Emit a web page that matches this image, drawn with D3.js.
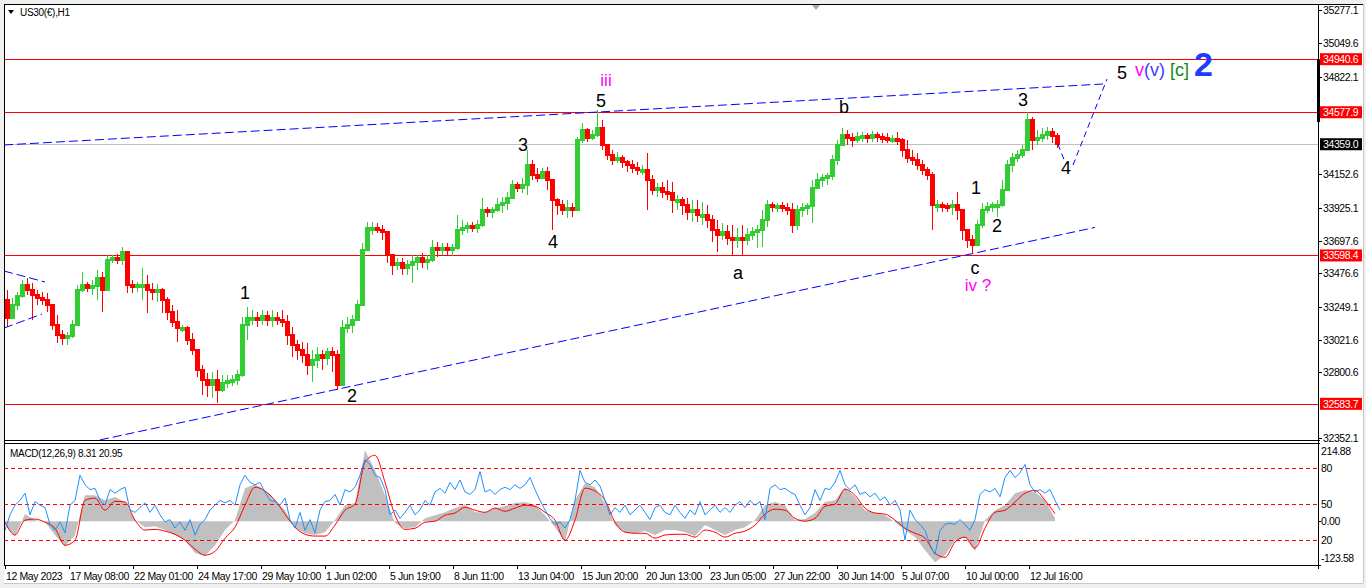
<!DOCTYPE html>
<html>
<head>
<meta charset="utf-8">
<script src="https://cdn.jsdelivr.net/npm/d3@7"></script>
<style>
html, body { margin: 0; padding: 0; background: #f0f0f0; }
svg { display: block; font-family: "Liberation Sans", Arial, sans-serif; }
</style>
</head>
<body>
<svg id="chart" width="1366" height="588"></svg>
<script>
// ---- data (H1 bars grouped 5 hours per bar) ----
const symbolTitle = "US30(€),H1";
const macdTitle = "MACD(12,26,9) 8.31 20.95";

const firstOpen = 33294;
const highs = [
  33362,33308,33349,33431,33444,33410,33362,33349,33342,33260,
  33191,33089,33075,33157,33396,33485,33417,33431,33499,33485,
  33601,33601,33608,33656,33601,33431,33417,33513,33465,33410,
  33403,33376,33314,33260,33225,33123,33116,33068,32952,32849,
  32795,32801,32815,32781,32781,32781,32815,33178,33246,33225,
  33212,33225,33219,33225,33212,33225,33191,33109,33020,33007,
  33000,32952,32972,32952,32966,32972,32952,33157,33178,33191,
  33294,33684,33827,33827,33820,33807,33752,33601,33581,33581,
  33567,33601,33601,33615,33601,33704,33690,33684,33684,33677,
  33875,33841,33827,33827,33841,33991,33930,33930,33991,33998,
  34032,34115,34101,34128,34320,34251,34197,34197,34203,34115,
  33991,33978,33978,33957,34409,34504,34470,34456,34593,34525,
  34354,34320,34306,34285,34251,34251,34238,34217,34299,34149,
  34094,34101,34115,34101,34012,33998,33991,33978,33978,33964,
  33944,33875,33841,33820,33807,33807,33786,33807,33786,33793,
  33807,33909,33978,33964,33957,33964,33957,33957,33944,33957,
  33957,34115,34162,34156,34162,34285,34388,34470,34456,34436,
  34443,34443,34436,34450,34443,34436,34436,34422,34443,34402,
  34388,34320,34299,34251,34203,34169,33978,33964,33957,33978,
  34032,33875,33772,33738,33841,33957,33964,33964,33978,34115,
  34251,34299,34320,34354,34580,34545,34456,34470,34477,34470,
  34436
];
const lows = [
  33109,33191,33225,33308,33328,33157,33260,33260,33212,33089,
  33000,32986,32986,33034,33123,33349,33349,33328,33294,33212,
  33362,33547,33540,33533,33342,33342,33349,33294,33205,33294,
  33280,33205,33157,33109,33007,33075,32986,32918,32767,32644,
  32630,32624,32589,32665,32692,32706,32713,32767,33020,33123,
  33109,33123,33116,33109,33123,33109,32986,32904,32884,32863,
  32781,32733,32829,32815,32849,32801,32678,32713,33068,33068,
  33157,33260,33636,33738,33752,33704,33547,33465,33499,33465,
  33465,33410,33499,33513,33499,33554,33588,33601,33601,33595,
  33636,33738,33752,33759,33752,33793,33861,33855,33896,33889,
  33909,34026,34032,34026,34012,34115,34101,34128,34046,33772,
  33875,33875,33855,33861,33909,34368,34374,34388,34409,34320,
  34251,34217,34231,34197,34169,34162,34149,34149,33909,34012,
  33998,33991,33978,33889,33909,33875,33841,33827,33827,33807,
  33786,33690,33622,33704,33670,33601,33649,33601,33670,33704,
  33649,33656,33793,33896,33896,33896,33875,33752,33772,33861,
  33875,33820,34067,34067,34080,34115,34217,34354,34354,34340,
  34368,34374,34368,34374,34374,34368,34368,34368,34354,34272,
  34231,34217,34183,34149,34115,33772,33896,33896,33896,33875,
  33841,33704,33649,33615,33670,33786,33889,33896,33861,33930,
  34080,34169,34238,34265,34320,34320,34354,34374,34388,34368,
  34333
];
const closes = [
  33171,33260,33321,33396,33362,33328,33308,33294,33260,33123,
  33054,33034,33048,33123,33362,33396,33376,33390,33444,33362,
  33567,33581,33567,33622,33396,33390,33396,33396,33362,33349,
  33362,33294,33212,33143,33102,33102,33020,32952,32815,32747,
  32713,32747,32678,32726,32740,32747,32781,33123,33171,33171,
  33157,33184,33157,33171,33157,33143,33054,32986,32952,32918,
  32849,32884,32918,32897,32938,32918,32713,33102,33123,33157,
  33260,33636,33786,33786,33772,33759,33601,33533,33547,33513,
  33533,33554,33581,33554,33567,33649,33636,33649,33636,33649,
  33772,33786,33800,33786,33807,33909,33896,33909,33944,33957,
  33991,34080,34060,34080,34217,34149,34128,34169,34115,33978,
  33944,33909,33923,33909,34388,34456,34402,34422,34470,34354,
  34285,34251,34265,34238,34217,34197,34183,34183,34115,34046,
  34060,34032,34026,33978,33978,33944,33896,33909,33875,33875,
  33841,33772,33738,33759,33718,33704,33718,33704,33738,33759,
  33772,33841,33944,33930,33937,33923,33909,33807,33909,33923,
  33937,34060,34115,34128,34142,34251,34354,34422,34402,34388,
  34409,34415,34402,34422,34409,34402,34388,34395,34388,34320,
  34265,34251,34217,34183,34149,33944,33944,33937,33930,33944,
  33909,33772,33704,33670,33807,33909,33930,33944,33944,34046,
  34217,34265,34285,34320,34525,34388,34402,34422,34443,34415,
  34359.0
];

// MACD main (grey histogram) and signal (red), one value per 10 hours
const macdMain = [
  -11,-42,20,3,-3,-39,-71,-39,73,73,
  59,68,54,3,-17,-14,-25,-39,-54,-90,
  -99,-68,-25,3,93,104,87,59,31,-20,
  -34,-39,-31,3,45,51,200,144,73,-6,
  -20,-17,8,17,25,37,48,25,25,37,
  42,51,54,45,17,-17,-59,59,107,96,
  51,-11,-31,-34,-28,-39,-25,-25,-31,-42,
  -11,-25,-39,-25,-17,3,45,54,45,3,
  6,23,54,59,96,68,31,23,17,-3,
  -25,-45,-82,-116,-96,-54,-45,-85,3,31,
  45,79,87,82,59,8.31
];
const macdSignal = [
  -3,-39,3,6,-3,-20,-68,-54,59,65,
  31,56,54,3,-25,-23,-28,-37,-54,-79,
  -96,-85,-48,-17,45,96,85,59,20,-17,
  -37,-42,-42,-11,31,48,166,186,110,17,
  -23,-20,-3,0,17,23,39,31,25,37,
  28,37,45,42,25,3,-54,3,93,85,
  59,-3,-31,-34,-34,-48,-39,-37,-37,-45,
  -25,-31,-45,-34,-28,-11,20,34,31,8,
  0,8,42,48,90,73,37,23,20,3,
  -20,-34,-48,-90,-102,-59,-45,-76,-20,25,
  31,54,79,87,59,20.95
];
// oscillator drawn in the same window (0..100 scale), one value per 5 hours
const oscValues = [
  28,41,49,53,59,41,52,49,47,33,
  28,35,26,49,53,74,66,62,63,53,
  49,62,59,62,64,45,43,47,51,43,
  49,41,35,37,30,35,28,37,24,33,
  37,45,49,53,51,53,49,66,74,68,
  66,68,60,53,52,49,55,37,30,43,
  28,37,26,45,52,53,58,49,62,60,
  64,74,87,83,74,72,62,41,45,38,
  43,49,41,45,53,49,60,63,59,68,
  62,70,60,58,62,77,60,62,58,62,
  64,62,66,63,66,72,62,53,45,38,
  33,35,30,37,53,78,68,66,70,65,
  53,41,47,43,49,41,45,49,43,37,
  47,49,43,41,49,43,38,45,41,52,
  41,45,49,43,47,43,49,52,47,53,
  49,52,37,63,66,62,63,60,58,49,
  41,47,62,53,63,62,68,78,66,62,
  66,58,60,56,59,53,56,49,53,45,
  20,45,37,33,28,16,8,28,33,34,
  33,37,33,28,37,58,62,60,63,56,
  72,78,72,76,83,66,60,62,59,62,
  53,45
];

const dateLabels = ["12 May 2023","17 May 08:00","22 May 01:00","24 May 17:00","29 May 10:00",
  "1 Jun 02:00","5 Jun 19:00","8 Jun 11:00","13 Jun 04:00","15 Jun 20:00","20 Jun 13:00",
  "23 Jun 05:00","27 Jun 22:00","30 Jun 14:00","5 Jul 07:00","10 Jul 00:00","12 Jul 16:00"];
const priceTicks = [35277.1, 35049.6, 34822.1, 34152.6, 33925.1, 33697.6, 33476.6, 33249.1, 33021.6, 32800.6, 32352.1];
const levelLines = [34940.6, 34577.9, 33598.4, 32583.7];
const bidPrice = 34359.0;
const orderRange = [34940.6, 34511];
const macdRange = [-123.58, 214.88];
const oscLevels = [80, 50, 20];

// trend lines: [hour, price] pairs
const upperChannel = [[0, 34354], [1099, 34771]];
const lowerChannel = [[96, 32337], [1091, 33790]];
const wedgeUpper = [[0, 33492], [41, 33417]];
const wedgeLower = [[0, 33102], [38, 33198]];
const projectionA = [[1054, 34359], [1061, 34237]];
const projectionB = [[1069, 34217], [1103, 34805]];

// wave counts: [text, hour, price]
const waveLabels = [
  ["1", 241, 33342], ["2", 348, 32637], ["3", 519, 34354], ["4", 549, 33690],
  ["5", 597, 34655], ["a", 734, 33478], ["b", 840, 34614], ["c", 971, 33513],
  ["1", 972, 34060], ["2", 993, 33800], ["3", 1019, 34662], ["4", 1062, 34197],
  ["5", 1118, 34846]
];
const romanLabels = [["iii", 602, 34795], ["iv ?", 974, 33396]];
const targetAnchor = [1131, 34826];
const shiftMarkHour = 812;

// ---- layout ----
const candleStep = 5, macdStep = 10, oscStep = 5;
const padL = 4, padR = 1318, padT = 4, mainBottom = 440, subTop = 443, subBottom = 565;
const outerRight = 1363, outerBottom = 583;
const up = "#32CD32", down = "#FF0000";

const svg = d3.select("#chart");
svg.append("rect").attr("x", padL).attr("y", padT)
  .attr("width", outerRight - padL).attr("height", outerBottom - padT).attr("fill", "#fff");

const x = d3.scaleLinear().domain([0, 1314]).range([padL, padR]);
const y = d3.scaleLinear().domain([32352.1, 35277.1]).range([437.7, 10]);
const yMacd = d3.scaleLinear().domain(macdRange).range([subBottom, 445]);
const yOsc = d3.scaleLinear().domain([0, 100]).range([564, 444]);

const defs = svg.append("defs");
defs.append("clipPath").attr("id", "clipMain").append("rect")
  .attr("x", padL).attr("y", padT).attr("width", padR - padL).attr("height", mainBottom - padT);
defs.append("clipPath").attr("id", "clipSub").append("rect")
  .attr("x", padL).attr("y", subTop).attr("width", padR - padL).attr("height", subBottom - subTop);

const main = svg.append("g").attr("clip-path", "url(#clipMain)");

// horizontal levels
main.selectAll("line.level").data(levelLines).join("line")
  .attr("x1", padL).attr("x2", padR)
  .attr("y1", d => Math.round(y(d)) + 0.5).attr("y2", d => Math.round(y(d)) + 0.5)
  .attr("stroke", "#ff0000").attr("stroke-width", 1);
main.append("line").attr("x1", padL).attr("x2", padR)
  .attr("y1", Math.round(y(bidPrice)) + 0.5).attr("y2", Math.round(y(bidPrice)) + 0.5)
  .attr("stroke", "#c0c0c0");

// bars
const bars = closes.map((c, i) => ({
  t: i * candleStep, o: i === 0 ? firstOpen : closes[i - 1], h: highs[i], l: lows[i], c: c
}));
const gBars = main.append("g").attr("shape-rendering", "crispEdges");
gBars.selectAll("rect.wick").data(bars).join("rect").attr("class", "wick")
  .attr("x", d => x(d.t + 1) + 2).attr("width", 1)
  .attr("y", d => y(Math.max(d.h, d.o, d.c)))
  .attr("height", d => Math.max(1, y(Math.min(d.l, d.o, d.c)) - y(Math.max(d.h, d.o, d.c))))
  .attr("fill", d => d.c >= d.o ? up : down);
gBars.selectAll("rect.body").data(bars).join("rect").attr("class", "body")
  .attr("x", d => x(d.t + 1)).attr("width", 5)
  .attr("y", d => y(Math.max(d.o, d.c)) - 1)
  .attr("height", d => Math.max(4, Math.abs(y(d.o) - y(d.c)) + 2))
  .attr("fill", d => d.c >= d.o ? up : down);

// trend lines
const tl = d3.line().x(d => x(d[0])).y(d => y(d[1]));
[upperChannel, lowerChannel, wedgeUpper, wedgeLower].forEach(pts => {
  main.append("path").attr("d", tl(pts)).attr("fill", "none")
    .attr("stroke", "#0000ff").attr("stroke-width", 1).attr("stroke-dasharray", "9,4");
});
[projectionA, projectionB].forEach(pts => {
  main.append("path").attr("d", tl(pts)).attr("fill", "none")
    .attr("stroke", "#0000ff").attr("stroke-width", 1).attr("stroke-dasharray", "6,4");
});

// wave labels
main.selectAll("text.wave").data(waveLabels).join("text")
  .attr("x", d => x(d[1])).attr("y", d => y(d[2]))
  .attr("text-anchor", "middle").attr("dominant-baseline", "central")
  .attr("font-size", 18).attr("fill", "#000").text(d => d[0]);
main.selectAll("text.roman").data(romanLabels).join("text")
  .attr("x", d => x(d[1])).attr("y", d => y(d[2]))
  .attr("text-anchor", "middle").attr("dominant-baseline", "central")
  .attr("font-size", 17).attr("fill", "#ff00ff").text(d => d[0]);

const tx = x(targetAnchor[0]), ty = y(targetAnchor[1]);
const target = main.append("text").attr("x", tx).attr("y", ty).attr("font-size", 18);
target.append("tspan").attr("fill", "#ff00ff").text("v");
target.append("tspan").attr("fill", "#3c3cff").text("(v)");
target.append("tspan").attr("fill", "#138a13").attr("dx", 5).text("[c]");
target.append("tspan").attr("fill", "#1a3cff").attr("dx", 5).attr("font-size", 34)
  .attr("font-weight", "bold").text("2");

// shift marker
const sx = x(shiftMarkHour);
svg.append("path").attr("d", `M${sx - 4},${padT + 1}L${sx + 4},${padT + 1}L${sx},${padT + 6}Z`).attr("fill", "#a8a8a8");

// title
svg.append("path").attr("d", "M8,10L14,10L11,14Z").attr("fill", "#000");
svg.append("text").attr("x", 20).attr("y", 12).attr("dominant-baseline", "central")
  .attr("font-size", 10).attr("letter-spacing", -0.3).text(symbolTitle);

// ---- MACD window ----
const sub = svg.append("g").attr("clip-path", "url(#clipSub)");
const hist = macdMain.map((v, k) => ({ t: k * macdStep, v }));
sub.append("path").datum(hist)
  .attr("d", d3.area().x(d => x(d.t + 1)).y0(yMacd(0)).y1(d => yMacd(d.v)))
  .attr("fill", "#c0c0c0");
sub.selectAll("line.osc").data(oscLevels).join("line")
  .attr("x1", padL).attr("x2", padR)
  .attr("y1", d => Math.round(yOsc(d)) + 0.5).attr("y2", d => Math.round(yOsc(d)) + 0.5)
  .attr("stroke", "#ff0000").attr("stroke-dasharray", "4,3");
const sig = macdSignal.map((v, k) => ({ t: k * macdStep, v }));
sub.append("path").datum(sig)
  .attr("d", d3.line().curve(d3.curveMonotoneX).x(d => x(d.t + 1)).y(d => yMacd(d.v)))
  .attr("fill", "none").attr("stroke", "#ff0000").attr("stroke-width", 1);
const osc = oscValues.map((v, k) => ({ t: k * oscStep, v }));
sub.append("path").datum(osc)
  .attr("d", d3.line().x(d => x(d.t + 1)).y(d => yOsc(d.v)))
  .attr("fill", "none").attr("stroke", "#1e90ff").attr("stroke-width", 1);

svg.append("text").attr("x", 10).attr("y", 453).attr("dominant-baseline", "central")
  .attr("font-size", 10).attr("letter-spacing", -0.3).text(macdTitle);

// ---- frames ----
const frame = svg.append("g").attr("stroke", "#000").attr("shape-rendering", "crispEdges");
frame.append("line").attr("x1", padL).attr("x2", outerRight).attr("y1", padT + 0.5).attr("y2", padT + 0.5);
frame.append("line").attr("x1", padL + 0.5).attr("x2", padL + 0.5).attr("y1", padT).attr("y2", subBottom);
frame.append("line").attr("x1", padR + 0.5).attr("x2", padR + 0.5).attr("y1", padT).attr("y2", subBottom + 4);
[mainBottom, subTop, subBottom].forEach(v => {
  frame.append("line").attr("x1", padL).attr("x2", padR + 2).attr("y1", v + 0.5).attr("y2", v + 0.5);
});
svg.append("line").attr("x1", outerRight + 0.5).attr("x2", outerRight + 0.5).attr("y1", padT).attr("y2", outerBottom)
  .attr("stroke", "#c8c8c8");
svg.append("line").attr("x1", padL).attr("x2", outerRight).attr("y1", outerBottom + 0.5).attr("y2", outerBottom + 0.5)
  .attr("stroke", "#c8c8c8");

// ---- price axis ----
const axisG = svg.append("g").attr("font-size", 10.5).attr("letter-spacing", -0.4);
axisG.selectAll("line.tick").data(priceTicks).join("line")
  .attr("x1", padR).attr("x2", padR + 4)
  .attr("y1", d => Math.round(y(d)) + 0.5).attr("y2", d => Math.round(y(d)) + 0.5)
  .attr("stroke", "#000");
axisG.selectAll("text.tick").data(priceTicks).join("text")
  .attr("x", padR + 5).attr("y", d => y(d)).attr("dominant-baseline", "central")
  .text(d => d.toFixed(1));

axisG.append("rect").attr("x", padR - 1).attr("width", 3)
  .attr("y", y(orderRange[0])).attr("height", y(orderRange[1]) - y(orderRange[0])).attr("fill", "#000");

const tags = levelLines.map(v => ({ v, bg: "#ff0000" })).concat([{ v: bidPrice, bg: "#000" }]);
axisG.selectAll("rect.tag").data(tags).join("rect")
  .attr("x", padR + 2).attr("width", 42).attr("y", d => y(d.v) - 6).attr("height", 12)
  .attr("fill", d => d.bg);
axisG.selectAll("text.tag").data(tags).join("text")
  .attr("x", padR + 5).attr("y", d => y(d.v)).attr("dominant-baseline", "central")
  .attr("fill", "#fff").text(d => d.v.toFixed(1));

// ---- MACD axis ----
const subAxis = [
  { txt: macdRange[1].toFixed(2), yy: yMacd(macdRange[1]) + 6, tick: false },
  { txt: "0.00", yy: yMacd(0), tick: true },
  { txt: macdRange[0].toFixed(2), yy: yMacd(macdRange[0]) - 7, tick: true, ty: yMacd(macdRange[0]) }
].concat(oscLevels.map(v => ({ txt: String(v), yy: yOsc(v), tick: false })));
axisG.selectAll("text.sub").data(subAxis).join("text")
  .attr("x", padR + 3).attr("y", d => d.yy).attr("dominant-baseline", "central")
  .text(d => d.txt);
axisG.selectAll("line.sub").data(subAxis.filter(d => d.tick)).join("line")
  .attr("x1", padR).attr("x2", padR + 3)
  .attr("y1", d => Math.round(d.ty || d.yy) + 0.5).attr("y2", d => Math.round(d.ty || d.yy) + 0.5)
  .attr("stroke", "#000");

// ---- time axis ----
const dates = dateLabels.map((s, k) => ({ s, t: k * 64 }));
axisG.selectAll("line.date").data(dates).join("line")
  .attr("x1", d => Math.round(x(d.t + 1)) + 0.5).attr("x2", d => Math.round(x(d.t + 1)) + 0.5)
  .attr("y1", subBottom).attr("y2", subBottom + 4).attr("stroke", "#000");
axisG.selectAll("text.date").data(dates).join("text")
  .attr("x", d => x(d.t + 1) + 1).attr("y", 576).attr("dominant-baseline", "central")
  .text(d => d.s);
</script>
</body>
</html>
